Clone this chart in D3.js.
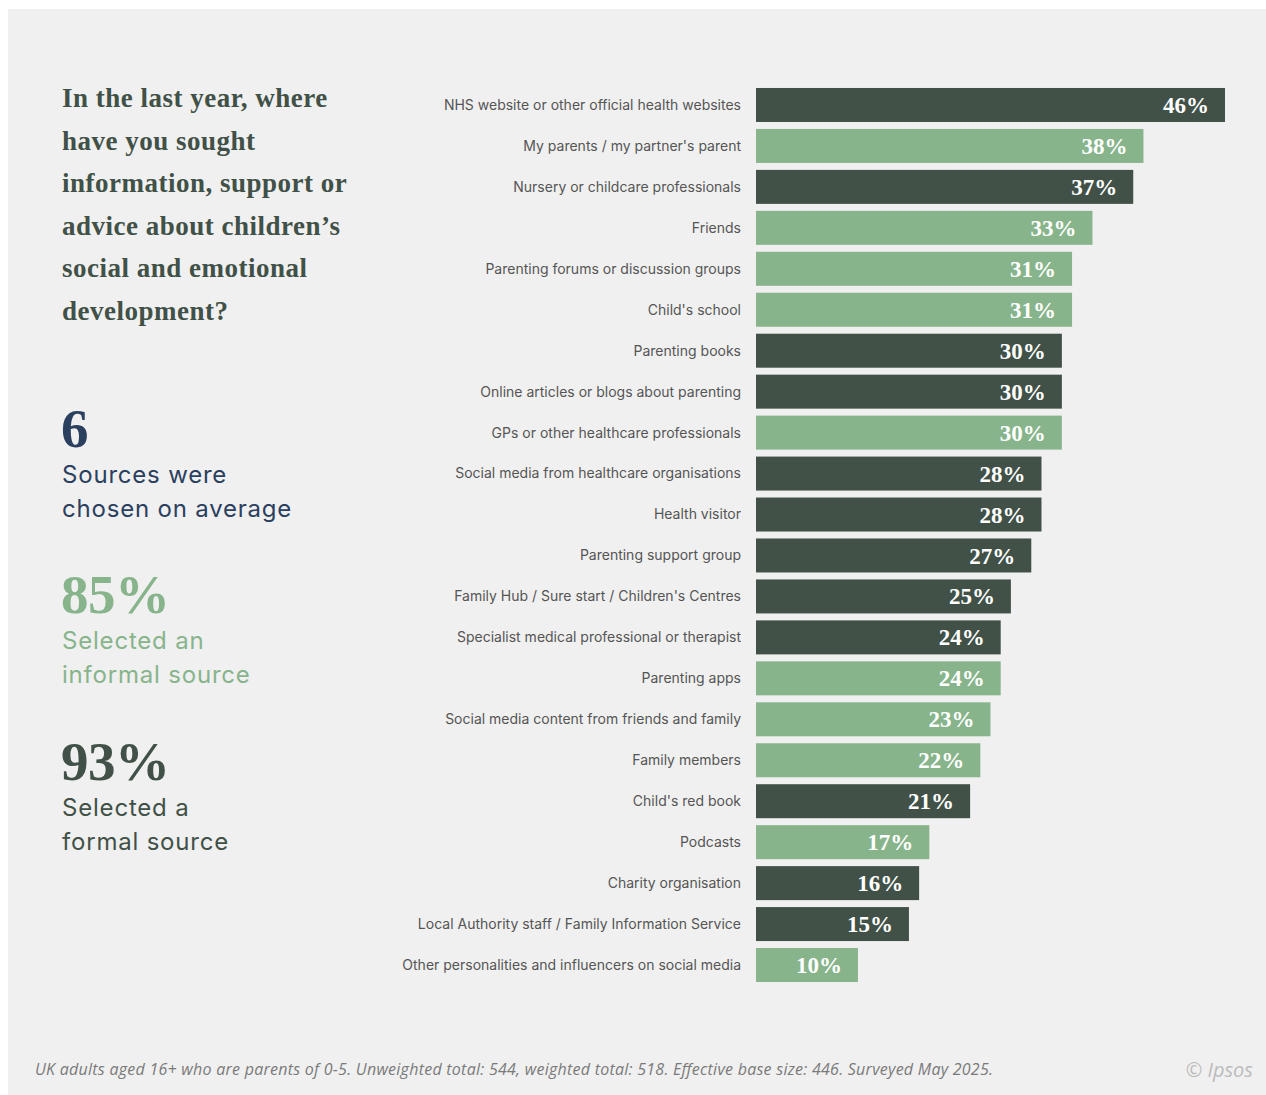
<!DOCTYPE html>
<html>
<head>
<meta charset="utf-8">
<script src="https://cdn.jsdelivr.net/npm/d3@7"></script>
<style>
  html, body { margin: 0; padding: 0; background: #ffffff; }
  svg { display: block; }
</style>
</head>
<body>
<svg id="chart" width="1266" height="1095"></svg>
<script>
// Sources of information, ordered as displayed
const categories = [
  "NHS website or other official health websites",
  "My parents / my partner's parent",
  "Nursery or childcare professionals",
  "Friends",
  "Parenting forums or discussion groups",
  "Child's school",
  "Parenting books",
  "Online articles or blogs about parenting",
  "GPs or other healthcare professionals",
  "Social media from healthcare organisations",
  "Health visitor",
  "Parenting support group",
  "Family Hub / Sure start / Children's Centres",
  "Specialist medical professional or therapist",
  "Parenting apps",
  "Social media content from friends and family",
  "Family members",
  "Child's red book",
  "Podcasts",
  "Charity organisation",
  "Local Authority staff / Family Information Service",
  "Other personalities and influencers on social media"
];
const values = [46, 38, 37, 33, 31, 31, 30, 30, 30, 28, 28, 27, 25, 24, 24, 23, 22, 21, 17, 16, 15, 10];
// "formal" or "informal" source type
const sourceTypes = [
  "formal", "informal", "formal", "informal", "informal", "informal",
  "formal", "formal", "informal", "formal", "formal", "formal",
  "formal", "formal", "informal", "informal", "informal", "formal",
  "informal", "formal", "formal", "informal"
];

const titleLines = [
  "In the last year, where",
  "have you sought",
  "information, support or",
  "advice about children\u2019s",
  "social and emotional",
  "development?"
];
const statNumbers = ["6", "85%", "93%"];
const statCaptions = [
  ["Sources were", "chosen on average"],
  ["Selected an", "informal source"],
  ["Selected a", "formal source"]
];
const footnote = "UK adults aged 16+ who are parents of 0-5. Unweighted total: 544, weighted total: 518. Effective base size: 446. Surveyed May 2025.";
const credit = "\u00A9 Ipsos";

const DARK = "#415147";
const LIGHT = "#87b48b";
const NAVY = "#2b405f";
const SERIF = "'Liberation Serif', 'DejaVu Serif', serif";
const SANS = "Inter, 'Noto Sans', sans-serif";

const svg = d3.select("#chart");

// Panel background
svg.append("rect")
  .attr("x", 8).attr("y", 9)
  .attr("width", 1258).attr("height", 1086)
  .attr("fill", "#f0f0f0");

// Title block
svg.append("text")
  .attr("x", 62).attr("y", 107)
  .attr("font-family", SERIF)
  .attr("font-weight", "bold")
  .attr("font-size", 27)
  .attr("letter-spacing", 0.5)
  .attr("fill", DARK)
  .selectAll("tspan")
  .data(titleLines)
  .join("tspan")
  .attr("x", 62)
  .attr("dy", (d, i) => i === 0 ? 0 : 42.6)
  .text(d => d);

// Headline stats
const statColors = [NAVY, LIGHT, DARK];
const statY = [447, 613, 780];
const stats = svg.append("g");
statNumbers.forEach((n, i) => {
  stats.append("text")
    .attr("x", 61).attr("y", statY[i])
    .attr("font-family", SERIF)
    .attr("font-weight", "bold")
    .attr("font-size", 55)
    .attr("letter-spacing", -0.5)
    .attr("fill", statColors[i])
    .text(n);
  stats.append("text")
    .attr("font-family", SANS)
    .attr("font-size", 24)
    .attr("letter-spacing", 0.8)
    .attr("fill", statColors[i])
    .selectAll("tspan")
    .data(statCaptions[i])
    .join("tspan")
    .attr("x", 62)
    .attr("y", (d, j) => statY[i] + 36 + j * 34)
    .text(d => d);
});

// Bar chart
const x = d3.scaleLinear().domain([0, 46]).range([756, 1225]);
const y = d3.scaleBand()
  .domain(categories)
  .range([88 - 3.5, 982 + 3.5])
  .paddingInner(0.17)
  .paddingOuter(0.085);

const rows = svg.append("g")
  .selectAll("g")
  .data(categories.map((c, i) => ({ c, v: values[i], t: sourceTypes[i] })))
  .join("g");

rows.append("rect")
  .attr("x", x(0))
  .attr("y", d => y(d.c))
  .attr("width", d => x(d.v) - x(0))
  .attr("height", y.bandwidth())
  .attr("fill", d => d.t === "formal" ? DARK : LIGHT);

rows.append("text")
  .attr("x", 741)
  .attr("y", d => y(d.c) + y.bandwidth() / 2)
  .attr("dy", "0.35em")
  .attr("text-anchor", "end")
  .attr("font-family", SANS)
  .attr("font-size", 14)
  .attr("fill", "#555555")
  .text(d => d.c);

rows.append("text")
  .attr("x", d => x(d.v) - 16)
  .attr("y", d => y(d.c) + y.bandwidth() / 2)
  .attr("dy", "0.35em")
  .attr("text-anchor", "end")
  .attr("font-family", SERIF)
  .attr("font-weight", "bold")
  .attr("font-size", 23)
  .attr("fill", "#ffffff")
  .text(d => d.v + "%");

// Footer
svg.append("text")
  .attr("x", 35).attr("y", 1075)
  .attr("font-family", "'Open Sans', Lato, sans-serif")
  .attr("font-style", "italic")
  .attr("font-size", 16)
  .attr("textLength", 958)
  .attr("lengthAdjust", "spacing")
  .attr("fill", "#7a7a7a")
  .text(footnote);

svg.append("text")
  .attr("x", 1253).attr("y", 1077)
  .attr("text-anchor", "end")
  .attr("font-family", "'Open Sans', Lato, sans-serif")
  .attr("font-style", "italic")
  .attr("font-size", 20)
  .attr("fill", "#bbbbbb")
  .text(credit);
</script>
</body>
</html>
